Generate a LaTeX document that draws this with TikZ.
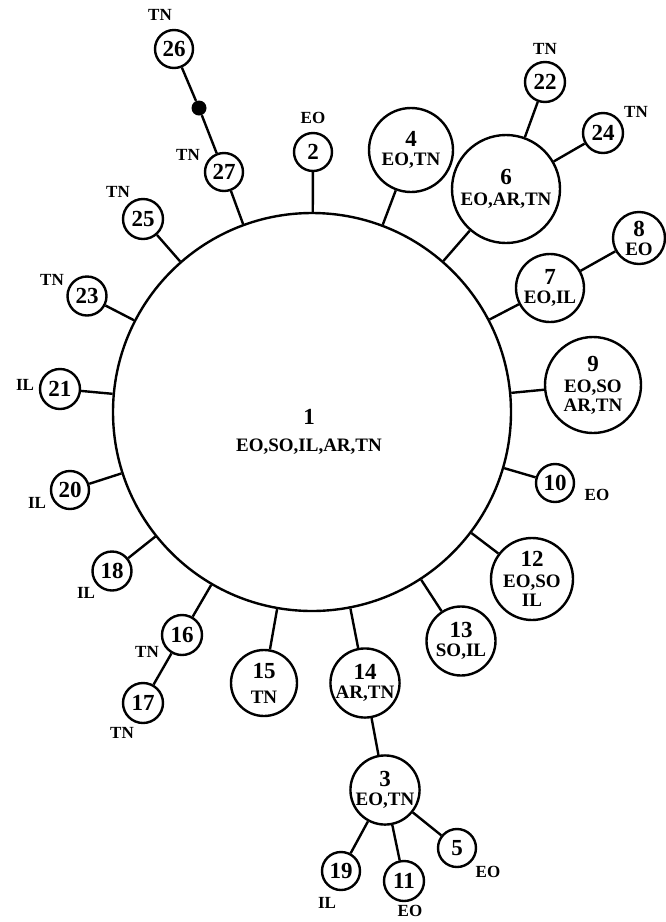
\documentclass[tikz,border=0pt]{standalone}
\usepackage{fontspec}
\setmainfont{Liberation Serif}
\usepackage{tikz}
\newcommand{\labfont}{\bfseries\fontsize{19}{19}\selectfont}
\newcommand{\tagfont}{\bfseries\fontsize{17}{17}\selectfont}
\newcommand{\hnum}[1]{{\fontsize{23}{23}\selectfont #1}}
\tikzset{hap/.style={draw, circle, line width=2.4pt, inner sep=0pt, align=center, font=\labfont},
	tag/.style={font=\tagfont, inner sep=0pt},
	link/.style={line width=2.4pt},
	knot/.style={circle, fill=black, minimum size=15pt, inner sep=0pt}}

\begin{document}
\begin{tikzpicture}[x=1pt, y=-1pt]
					\useasboundingbox (0,0) rectangle (666,922);

					\node[hap, minimum size=398pt] (n1) at (312,412) {};
					\node[font=\labfont, align=center] (t1) at (309,432) {\hnum{1}\\[8pt]EO,SO,IL,AR,TN};

					\node[hap, minimum size=38pt] (n2) at (313,152) {\hnum{2}};
					\node[hap, minimum size=67pt] (n3) at (385,790) {\hnum{3}\\EO,TN};
					\node[hap, minimum size=84pt] (n4) at (411,150) {\hnum{4}\\EO,TN};
					\node[hap, minimum size=38pt] (n5) at (457,848) {\hnum{5}};
					\node[hap, minimum size=108pt] (n6) at (506,189) {\hnum{6}\\[2pt]EO,AR,TN};
					\node[hap, minimum size=68pt] (n7) at (550,288) {\hnum{7}\\EO,IL};
					\node[hap, minimum size=52pt] (n8) at (639,238) {\hnum{8}\\EO};
					\node[hap, minimum size=96pt] (n9) at (593,385) {\hnum{9}\\[2pt]EO,SO\\AR,TN};
					\node[hap, minimum size=38pt] (n10) at (555,483) {\hnum{10}};
					\node[hap, minimum size=40pt] (n11) at (404,881) {\hnum{11}};
					\node[hap, minimum size=82pt] (n12) at (532,579) {\hnum{12}\\[2pt]EO,SO\\IL};
					\node[hap, minimum size=69pt] (n13) at (461,641) {\hnum{13}\\SO,IL};
					\node[hap, minimum size=66pt] (n14) at (365,683) {\hnum{14}\\AR,TN};
					\node[hap, minimum size=66pt] (n15) at (264,683) {\hnum{15}\\[6pt]TN};
					\node[hap, minimum size=40pt] (n16) at (182,635) {\hnum{16}};
					\node[hap, minimum size=40pt] (n17) at (143,703) {\hnum{17}};
					\node[hap, minimum size=39pt] (n18) at (112,571) {\hnum{18}};
					\node[hap, minimum size=38pt] (n19) at (341,871) {\hnum{19}};
					\node[hap, minimum size=38pt] (n20) at (70,490) {\hnum{20}};
					\node[hap, minimum size=40pt] (n21) at (60,389) {\hnum{21}};
					\node[hap, minimum size=40pt] (n22) at (545,82) {\hnum{22}};
					\node[hap, minimum size=39pt] (n23) at (87,296) {\hnum{23}};
					\node[hap, minimum size=40pt] (n24) at (603,133) {\hnum{24}};
					\node[hap, minimum size=40pt] (n25) at (143,219) {\hnum{25}};
					\node[hap, minimum size=38pt] (n26) at (174,49) {\hnum{26}};
					\node[hap, minimum size=38pt] (n27) at (224,172) {\hnum{27}};
					\node[knot] (k1) at (199,108) {};

					\node[tag] (t2) at (313,118) {EO};
					\node[tag] (t5) at (488,872) {EO};
					\node[tag] (t10) at (597,495) {EO};
					\node[tag] (t11) at (410,911) {EO};
					\node[tag] (t16) at (147,652) {TN};
					\node[tag] (t17) at (122,733) {TN};
					\node[tag] (t18) at (86,593) {IL};
					\node[tag] (t19) at (327,903) {IL};
					\node[tag] (t20) at (37,503) {IL};
					\node[tag] (t21) at (25,385) {IL};
					\node[tag] (t22) at (545,49) {TN};
					\node[tag] (t23) at (52,280) {TN};
					\node[tag] (t24) at (636,112) {TN};
					\node[tag] (t25) at (118,192) {TN};
					\node[tag] (t26) at (160,15) {TN};
					\node[tag] (t27) at (188,155) {TN};

					\foreach \n in {2,4,6,7,9,10,12,13,14,15,16,18,20,21,23,25,27}
						\draw[link] (n\n) -- (n1);

					\draw[link] (n26) -- (k1) -- (n27);
					\draw[link] (n22) -- (n6);
					\draw[link] (n24) -- (n6);
					\draw[link] (n8) -- (n7);
					\draw[link] (n17) -- (n16);
					\draw[link] (n14) -- (n3);
					\draw[link] (n3) -- (n19);
					\draw[link] (n3) -- (n11);
					\draw[link] (n3) -- (n5);

				\end{tikzpicture}
\end{document}
